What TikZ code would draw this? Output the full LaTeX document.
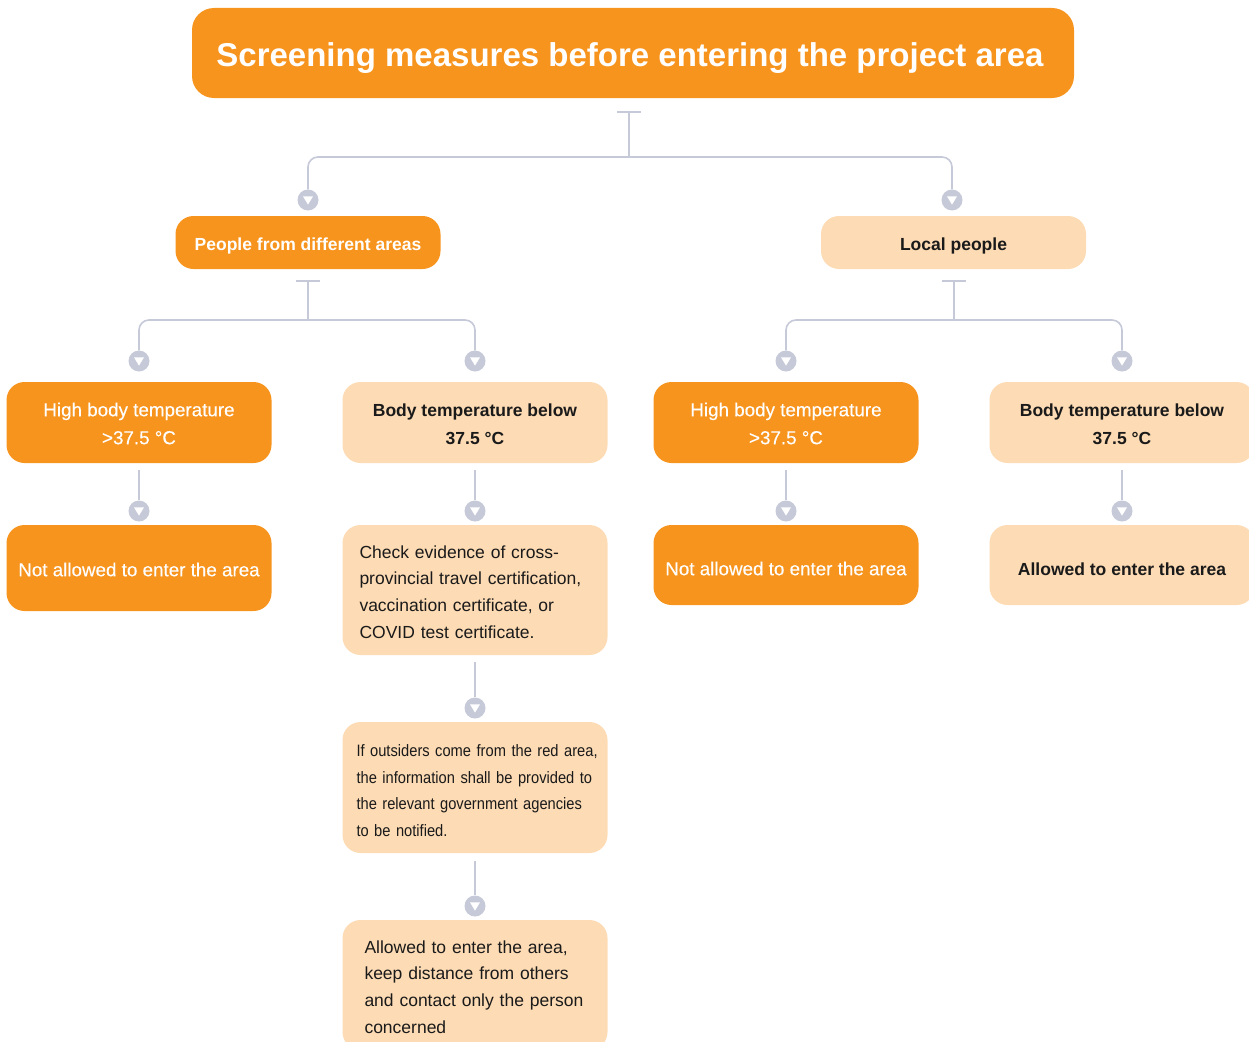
\documentclass[tikz,border=0pt]{standalone}
\usepackage{fontspec}
\setmainfont{Liberation Sans}
\newfontfamily\narrowfont[FakeStretch=0.89]{Liberation Sans}
\newfontfamily\medfont[FakeBold=0.3]{Liberation Sans}
\usetikzlibrary{calc}
\definecolor{orangeA}{HTML}{F7941D}
\definecolor{peach}{HTML}{FDDBB4}
\definecolor{linec}{HTML}{C6C9D8}
\definecolor{ink}{HTML}{1A1A1A}

\begin{document}
\begin{tikzpicture}[x=1pt,y=-1pt,
  box/.style={rounded corners=18, minimum width=265, inner sep=0},
  hot/.style={box, fill=orangeA},
  cool/.style={box, fill=peach},
  conn/.style={draw=linec, line width=1.6},
  dot/.style={circle, fill=linec, minimum size=21, inner sep=0,
    path picture={\fill[white, shift={(path picture bounding box.center)}]
      (-5,-3.6) -- (5,-3.6) -- (0,4.6) -- cycle;}},
  txt/.style={inner sep=0, align=center},
  wtxt/.style={txt, text=white, font=\medfont\fontsize{18.8}{28}\selectfont},
  btxt/.style={txt, text=ink, font=\fontsize{17.5}{28}\selectfont\bfseries},
  ptxt/.style={inner sep=0, anchor=west, align=left, text width=250, text=ink,
    font=\fontsize{17.5}{26.7}\selectfont},
]
\useasboundingbox (0,0) rectangle (1249,1041);
\clip (0,0) rectangle (1249,1041);

% title
\node[box, fill=orangeA, minimum width=882, minimum height=90, rounded corners=22]
  (title) at (633,53) {};
\node[txt, text=white, font=\fontsize{33}{40}\selectfont\bfseries]
  (titlet) at ($(title.center)+(-3,5)$) {Screening measures before entering the project area};

% groups
\node[hot, minimum height=53] (out) at (308,242.5) {};
\node[btxt, text=white] (outt) at ($(out.center)+(0,3.5)$) {People from different areas};
\node[cool, minimum height=53] (loc) at (953.5,242.5) {};
\node[btxt] (loct) at ($(loc.center)+(0,3.5)$) {Local people};

\node[dot] (d1) at (308,200) {};
\node[dot] (d2) at (952,200) {};
\coordinate (tA) at (629,112);
\coordinate (jA) at (629,157);
\draw[conn] ($(tA)+(-12,0)$) -- ($(tA)+(12,0)$);
\draw[conn] (tA) -- (jA);
\draw[conn, rounded corners=10] (d1.north) |- (jA) -| (d2.north);

% temperature checks
\node[hot, minimum height=81] (h1) at (139,422.5) {};
\node[wtxt] (h1t) at ($(h1.center)+(0,1)$) {High body temperature\\>37.5 °C};
\node[cool, minimum height=81] (b1) at (475,422.5) {};
\node[btxt] (b1t) at ($(b1.center)+(0,2)$) {Body temperature below\\37.5 °C};
\node[hot, minimum height=81] (h2) at (786,422.5) {};
\node[wtxt] (h2t) at ($(h2.center)+(0,1)$) {High body temperature\\>37.5 °C};
\node[cool, minimum height=81] (b2) at (1122,422.5) {};
\node[btxt] (b2t) at ($(b2.center)+(0,2)$) {Body temperature below\\37.5 °C};

\node[dot] (e1) at (139,361) {};
\node[dot] (e2) at (475,361) {};
\node[dot] (e3) at (786,361) {};
\node[dot] (e4) at (1122,361) {};

\coordinate (tB) at (308,281);
\coordinate (jB) at (308,320);
\coordinate (tC) at (954,281);
\coordinate (jC) at (954,320);
\draw[conn] ($(tB)+(-12,0)$) -- ($(tB)+(12,0)$);
\draw[conn] (tB) -- (jB);
\draw[conn, rounded corners=10] (e1.north) |- (jB) -| (e2.north);
\draw[conn] ($(tC)+(-12,0)$) -- ($(tC)+(12,0)$);
\draw[conn] (tC) -- (jC);
\draw[conn, rounded corners=10] (e3.north) |- (jC) -| (e4.north);

% outcomes
\node[hot, minimum height=86] (n1) at (139,568) {};
\node[wtxt] (n1t) at ($(n1.center)+(0,1.5)$) {Not allowed to enter the area};
\node[cool, minimum height=130] (chk) at (475,590) {};
\node[ptxt] (chkt) at ($(chk.west)+(17,2)$)
  {Check evidence of cross-\\provincial travel certification,\\vaccination certificate, or\\COVID test certificate.};
\node[hot, minimum height=80] (n2) at (786,565) {};
\node[wtxt] (n2t) at ($(n2.center)+(0,3.5)$) {Not allowed to enter the area};
\node[cool, minimum height=80] (a2) at (1122,565) {};
\node[btxt] (a2t) at ($(a2.center)+(0,4)$) {Allowed to enter the area};

\node[dot] (f1) at (139,511) {};
\node[dot] (f2) at (475,511) {};
\node[dot] (f3) at (786,511) {};
\node[dot] (f4) at (1122,511) {};
\draw[conn] ($(h1.south)+(0,7)$) -- (f1.north);
\draw[conn] ($(b1.south)+(0,7)$) -- (f2.north);
\draw[conn] ($(h2.south)+(0,7)$) -- (f3.north);
\draw[conn] ($(b2.south)+(0,7)$) -- (f4.north);

% follow-up steps for people from other areas
\node[cool, minimum height=131] (ows) at (475,787.5) {};
\node[ptxt, font=\narrowfont\fontsize{16.5}{26.7}\selectfont] (owst) at ($(ows.west)+(14,3)$)
  {If outsiders come from the red area,\\the information shall be provided to\\the relevant government agencies\\to be notified.};
\node[cool, minimum height=130] (fin) at (475,985) {};
\node[ptxt] (fint) at ($(fin.west)+(22,2)$)
  {Allowed to enter the area,\\keep distance from others\\and contact only the person\\concerned};

\node[dot] (g1) at (475,708) {};
\node[dot] (g2) at (475,906) {};
\draw[conn] ($(chk.south)+(0,7)$) -- (g1.north);
\draw[conn] ($(ows.south)+(0,8)$) -- (g2.north);
\end{tikzpicture}
\end{document}
